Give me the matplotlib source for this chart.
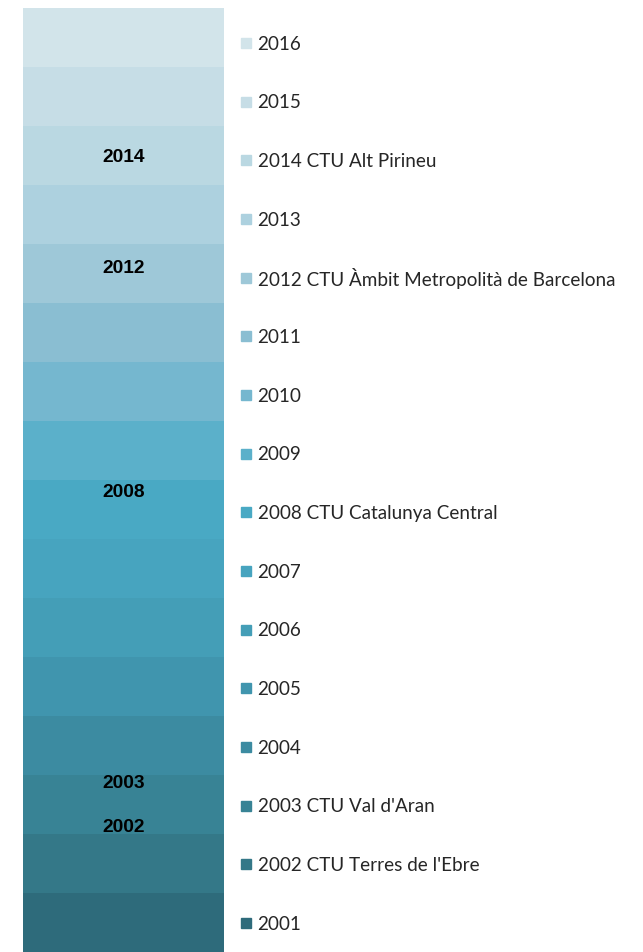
import matplotlib
matplotlib.use("Agg")
import matplotlib.pyplot as plt
from matplotlib.patches import Rectangle

# Data
years = [2001, 2002, 2003, 2004, 2005, 2006, 2007, 2008,
         2009, 2010, 2011, 2012, 2013, 2014, 2015, 2016]
legend_labels = ["2001", "2002 CTU Terres de l'Ebre", "2003 CTU Val d'Aran", "2004",
                 "2005", "2006", "2007", "2008 CTU Catalunya Central",
                 "2009", "2010", "2011", "2012 CTU Àmbit Metropolità de Barcelona",
                 "2013", "2014 CTU Alt Pirineu", "2015", "2016"]
values = [1] * 16
colors = ["#2E6B7B", "#347888", "#388395", "#3C8BA1", "#4095AE", "#449EB7",
          "#47A4BF", "#49A9C4", "#5BB0CA", "#75B7CF", "#8ABED2", "#9EC8D8",
          "#ADD1DF", "#BAD8E2", "#C6DDE6", "#D2E4EA"]
inner_labels = ["2014", "2012", "2008", "2003", "2002"]
inner_label_pos = [13.49, 11.60, 7.81, 2.87, 2.12]

W, H = 643, 953
fig = plt.figure(figsize=(W / 100, H / 100), dpi=100)
ax = fig.add_axes([23 / W, 0, (224 - 23) / W, (953 - 9) / H])

bottom = 0
for v, c in zip(values, colors):
    ax.bar(0, v, bottom=bottom, width=1.0, color=c, edgecolor="none")
    bottom += v
ax.set_xlim(-0.5, 0.5)
ax.set_ylim(0, sum(values))
ax.axis("off")

for lab, pos in zip(inner_labels, inner_label_pos):
    ax.text(0, pos, lab, ha="center", va="center", fontsize=13.8,
            fontweight="bold", family="Liberation Sans", color="black")

# legend (manual, spaced along the bar)
step = 0.9944
for i, (lab, c) in enumerate(zip(legend_labels, colors)):
    yc = 0.49 + i * step
    ax.add_patch(Rectangle((0.585, yc - 0.085), 0.05, 0.17, color=c,
                           transform=ax.transData, clip_on=False))
    ax.text(0.667, yc, lab, ha="left", va="center", fontsize=13.6,
            family="Lato", color="#262626", clip_on=False)

fig.savefig("out.png", dpi=100)
